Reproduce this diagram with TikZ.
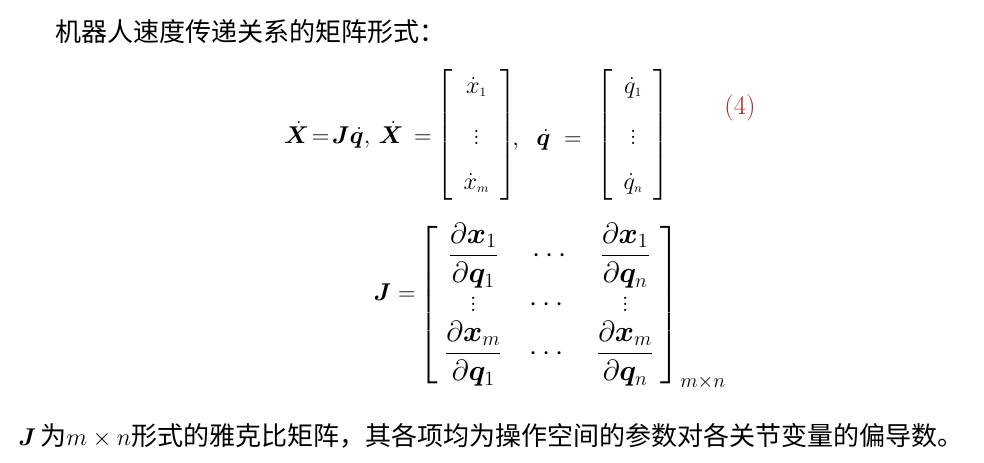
\documentclass[tikz,border=0pt]{standalone}
\usepackage{amsmath,bm}
\usepackage{fontspec}
\newfontfamily\cjk{Noto Sans CJK SC}
\definecolor{eqred}{RGB}{170,40,30}
\begin{document}
\begin{tikzpicture}[x=0.025cm,y=-0.025cm,
  txt/.style={inner sep=0,font=\cjk\fontsize{18.5}{22}\selectfont},
  eq/.style={inner sep=0,font=\fontsize{19}{22}\selectfont}]
\useasboundingbox[fill=white] (0,0) rectangle (984,462);
\node[txt,anchor=west] (title) at (55,32) {机器人速度传递关系的矩阵形式：};
\node[eq,anchor=east] (lhs) at (432,135) {$\dot{\bm X}\!=\!\bm J\dot{\bm q},\,\dot{\bm X}\,=$};
\node[eq,anchor=west] (v1) at (436,135) {$\left[\begin{array}{c}\,\dot x_{\scriptscriptstyle 1}\,\\[14pt] \vdots\\[10pt] \,\dot x_{\scriptscriptstyle m}\,\end{array}\right]$};
\node[eq,anchor=west] (mid) at (512,140) {$,\;\;\dot{\bm q}\;=$};
\node[eq,anchor=west] (v2) at (596,135) {$\left[\begin{array}{c}\,\dot q_{\scriptscriptstyle 1}\,\\[14pt] \vdots\\[10pt] \,\dot q_{\scriptscriptstyle n}\,\end{array}\right]$};
\node[eq,text=eqred,font=\rmfamily\fontsize{19}{22}\selectfont] (num) at (740,108) {(4)};
\node[eq,anchor=east] (jl) at (416,292) {$\bm J=$};
\node[eq,anchor=west,font=\fontsize{19.5}{23}\selectfont] (jm) at (418,306) {$\left[\begin{array}{ccc}
\dfrac{\partial \bm x_1}{\partial \bm q_1} & \;\;\cdots\;\; & \dfrac{\partial \bm x_1}{\partial \bm q_n}\\[4pt]
\vdots & \cdots & \vdots\\[0pt]
\dfrac{\partial \bm x_m}{\partial \bm q_1} & \cdots & \dfrac{\partial \bm x_m}{\partial \bm q_n}
\end{array}\right]_{m\times n}$};
\node[txt,anchor=west] (bottom) at (18,436) {$\bm J$\,为$m\times n$形式的雅克比矩阵，其各项均为操作空间的参数对各关节变量的偏导数。};
\end{tikzpicture}
\end{document}
